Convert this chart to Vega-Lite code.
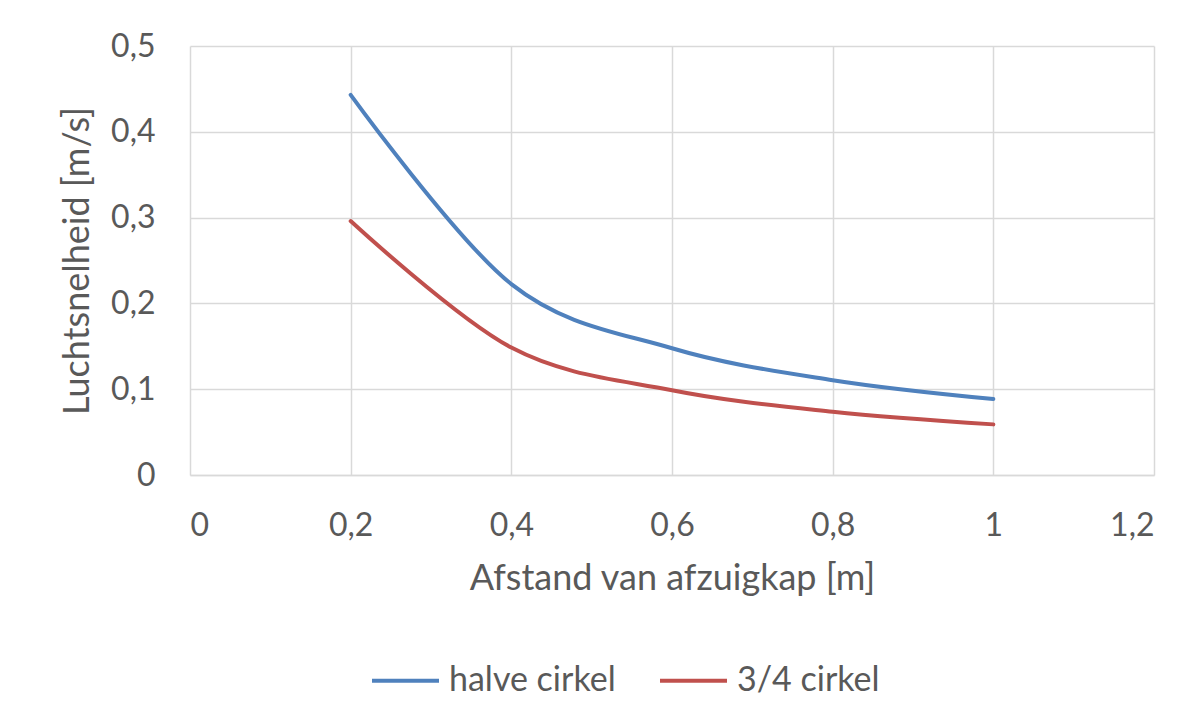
{
  "$schema": "https://vega.github.io/schema/vega-lite/v6.json",
  "autosize": {"type": "none"},
  "width": 964,
  "height": 429,
  "padding": {"left": 190, "top": 46, "right": 42, "bottom": 250},
  "background": "white",
  "data": {
    "values": [
      {"afstand": 0.2, "snelheid": 0.443, "serie": "halve cirkel"},
      {"afstand": 0.4, "snelheid": 0.2225, "serie": "halve cirkel"},
      {"afstand": 0.6, "snelheid": 0.1477, "serie": "halve cirkel"},
      {"afstand": 0.8, "snelheid": 0.1105, "serie": "halve cirkel"},
      {"afstand": 1.0, "snelheid": 0.0885, "serie": "halve cirkel"},
      {"afstand": 0.2, "snelheid": 0.296, "serie": "3/4 cirkel"},
      {"afstand": 0.4, "snelheid": 0.1485, "serie": "3/4 cirkel"},
      {"afstand": 0.6, "snelheid": 0.0987, "serie": "3/4 cirkel"},
      {"afstand": 0.8, "snelheid": 0.0738, "serie": "3/4 cirkel"},
      {"afstand": 1.0, "snelheid": 0.0590, "serie": "3/4 cirkel"}
    ]
  },
  "mark": {"type": "line", "interpolate": "cardinal", "strokeWidth": 4, "strokeCap": "round"},
  "encoding": {
    "x": {
      "field": "afstand",
      "type": "quantitative",
      "scale": {"domain": [0, 1.2], "nice": false, "zero": true},
      "axis": {
        "values": [0, 0.2, 0.4, 0.6, 0.8, 1.0, 1.2],
        "labelExpr": "replace(format(datum.value, '~g'), '.', ',')",
        "title": "Afstand van afzuigkap [m]",
        "grid": true,
        "gridColor": "#D9D9D9",
        "gridWidth": 1.5,
        "domain": true,
        "domainColor": "#D9D9D9",
        "domainWidth": 1.5,
        "ticks": false,
        "labelPadding": 35,
        "titlePadding": 20
      }
    },
    "y": {
      "field": "snelheid",
      "type": "quantitative",
      "scale": {"domain": [0, 0.5], "nice": false},
      "axis": {
        "values": [0, 0.1, 0.2, 0.3, 0.4, 0.5],
        "labelExpr": "replace(format(datum.value, '~g'), '.', ',')",
        "title": "Luchtsnelheid [m/s]",
        "grid": true,
        "gridColor": "#D9D9D9",
        "gridWidth": 1.5,
        "domain": false,
        "ticks": false,
        "labelPadding": 35,
        "titlePadding": 14
      }
    },
    "color": {
      "field": "serie",
      "type": "nominal",
      "sort": ["halve cirkel", "3/4 cirkel"],
      "scale": {"domain": ["halve cirkel", "3/4 cirkel"], "range": ["#4F81BD", "#C0504D"]},
      "legend": {
        "title": null,
        "orient": "none",
        "direction": "horizontal",
        "legendX": 180,
        "legendY": 599,
        "symbolType": "stroke",
        "symbolSize": 4489,
        "symbolStrokeWidth": 4,
        "labelOffset": 8,
        "labelLimit": 400,
        "columnPadding": 36
      }
    }
  },
  "config": {
    "font": "Lato",
    "view": {"stroke": null},
    "axis": {
      "labelFont": "Lato",
      "labelFontSize": 32,
      "labelColor": "#595959",
      "titleFont": "Lato",
      "titleFontSize": 36,
      "titleFontWeight": "normal",
      "titleColor": "#595959"
    },
    "legend": {
      "labelFont": "Lato",
      "labelFontSize": 34,
      "labelColor": "#595959"
    }
  }
}
